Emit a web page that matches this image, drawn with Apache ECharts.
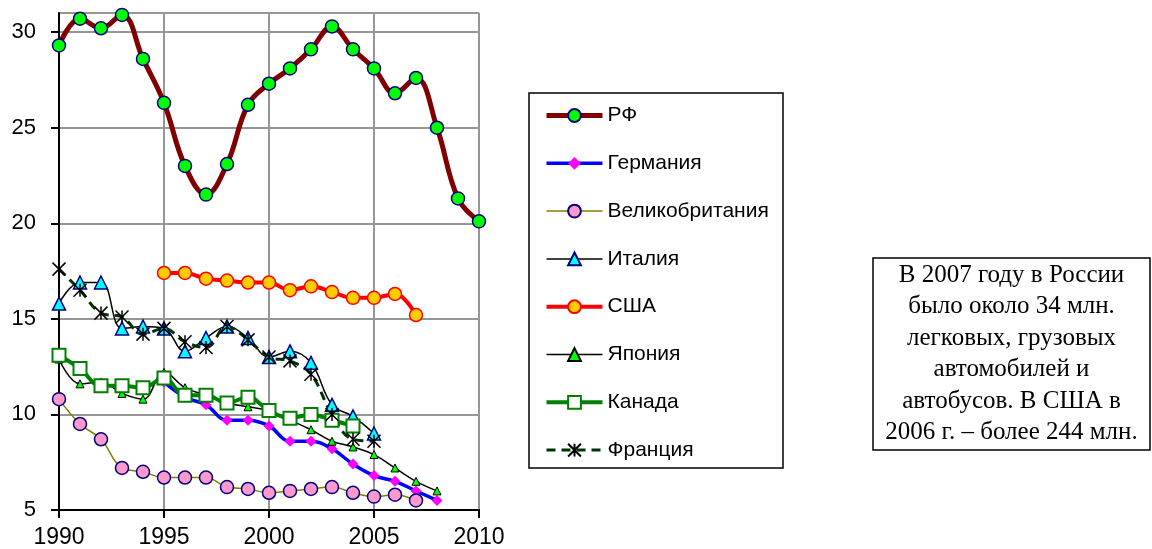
<!DOCTYPE html>
<html>
<head>
<meta charset="utf-8">
<script src="https://cdn.jsdelivr.net/npm/echarts@6/dist/echarts.min.js"></script>
<style>
  html, body { margin: 0; padding: 0; background: #fff; }
  #chart { width: 1152px; height: 549px; }
</style>
</head>
<body>
<div id="chart"></div>
<script>
// годы и значения
var years = ['1990','1991','1992','1993','1994','1995','1996','1997','1998','1999','2000',
             '2001','2002','2003','2004','2005','2006','2007','2008','2009','2010'];
var rf      = [29.3, 30.7, 30.2, 30.9, 28.6, 26.3, 23.0, 21.5, 23.1, 26.2, 27.3, 28.1, 29.1, 30.3, 29.1, 28.1, 26.8, 27.6, 25.0, 21.3, 20.1];
var germany = [null, null, null, null, null, 11.7, 10.9, 10.5, 9.7, 9.7, 9.4, 8.6, 8.6, 8.2, 7.4, 6.8, 6.5, 6.0, 5.5, null, null];
var britain = [10.8, 9.5, 8.7, 7.2, 7.0, 6.7, 6.7, 6.7, 6.2, 6.1, 5.9, 6.0, 6.1, 6.2, 5.9, 5.7, 5.8, 5.5, null, null, null];
var italy   = [15.8, 16.9, 16.9, 14.5, 14.6, 14.5, 13.3, 14.0, 14.6, 14.0, 13.0, 13.3, 12.7, 10.5, 9.9, 9.0, null, null, null, null, null];
var usa     = [null, null, null, null, null, 17.4, 17.4, 17.1, 17.0, 16.9, 16.9, 16.5, 16.7, 16.4, 16.1, 16.1, 16.3, 15.2, null, null, null];
var japan   = [12.9, 11.6, 11.7, 11.1, 10.8, 12.2, 11.4, 11.0, 10.6, 10.4, 10.2, 9.7, 9.2, 8.6, 8.3, 7.9, 7.2, 6.5, 6.0, null, null];
var canada  = [13.1, 12.4, 11.5, 11.5, 11.4, 11.9, 11.0, 11.0, 10.6, 10.9, 10.2, 9.8, 10.0, 9.7, 9.4, null, null, null, null, null, null];
var france  = [17.6, 16.5, 15.3, 15.1, 14.2, 14.5, 13.8, 13.5, 14.6, 13.9, 13.0, 12.8, 12.1, 10.0, 8.7, 8.6, null, null, null, null, null];

var note = 'В 2007 году в России\nбыло около 34 млн.\nлегковых, грузовых\nавтомобилей и\nавтобусов. В США в\n2006 г. – более 244 млн.';

var chart = echarts.init(document.getElementById('chart'), null, {renderer: 'canvas'});

function line(name, data, opts) {
  return Object.assign({
    name: name,
    type: 'line',
    data: data,
    smooth: 0.4,
    showAllSymbol: true,
    animation: false
  }, opts);
}

chart.setOption({
  animation: false,
  grid: { left: 59, right: 673, top: 13, bottom: 39 },
  xAxis: {
    type: 'category',
    data: years,
    boundaryGap: false,
    axisLine: { lineStyle: { color: '#000', width: 2 } },
    axisTick: { interval: 4, length: 8, lineStyle: { color: '#000', width: 2 } },
    axisLabel: { interval: 4, margin: 16, fontSize: 23, color: '#000', fontFamily: 'Liberation Sans' },
    splitLine: { show: true, interval: 4, lineStyle: { color: '#969696', width: 2 } }
  },
  yAxis: {
    type: 'value',
    min: 5, max: 31, interval: 5,
    axisLine: { show: true, lineStyle: { color: '#000', width: 2 } },
    axisTick: { show: true, length: 8, lineStyle: { color: '#000', width: 2 } },
    axisLabel: { margin: 23, fontSize: 22, color: '#000', fontFamily: 'Liberation Sans', showMaxLabel: false },
    splitLine: { lineStyle: { color: '#969696', width: 2 } }
  },
  legend: {
    orient: 'vertical',
    left: 544, top: 105,
    padding: 0,
    itemWidth: 56, itemHeight: 16,
    itemGap: 26.8,
    textStyle: { fontSize: 21, lineHeight: 20, color: '#000', fontFamily: 'Liberation Sans' },
    lineStyle: { width: 'inherit' },
    data: ['РФ', 'Германия', 'Великобритания', 'Италия', 'США', 'Япония', 'Канада', 'Франция']
  },
  graphic: [
    { type: 'rect', shape: { x: 529, y: 93, width: 254, height: 375 },
      style: { fill: 'none', stroke: '#000', lineWidth: 1.5 } },
    { type: 'rect', shape: { x: 873, y: 258, width: 277, height: 192 },
      style: { fill: 'none', stroke: '#000', lineWidth: 1.5 } },
    { type: 'text', x: 1011.5, y: 354,
      style: { text: note, font: '25px "Liberation Serif"', fill: '#000',
               align: 'center', verticalAlign: 'middle', lineHeight: 31.5 } }
  ],
  series: [
    line('РФ', rf, {
      symbol: 'circle', symbolSize: 13,
      lineStyle: { color: '#800000', width: 5 },
      itemStyle: { color: '#00ff00', borderColor: '#000080', borderWidth: 1.5 }
    }),
    line('Германия', germany, {
      symbol: 'diamond', symbolSize: [11, 11],
      lineStyle: { color: '#0000ff', width: 3.5 },
      itemStyle: { color: '#ff00ff', borderWidth: 0 }
    }),
    line('Великобритания', britain, {
      symbol: 'circle', symbolSize: 13,
      lineStyle: { color: '#808000', width: 1.5 },
      itemStyle: { color: '#ff99cc', borderColor: '#000080', borderWidth: 1.5 }
    }),
    line('Италия', italy, {
      symbol: 'triangle', symbolSize: 13,
      lineStyle: { color: '#000', width: 1.5 },
      itemStyle: { color: '#00ffff', borderColor: '#000080', borderWidth: 1.5 }
    }),
    line('США', usa, {
      symbol: 'circle', symbolSize: 13,
      lineStyle: { color: '#ff0000', width: 4 },
      itemStyle: { color: '#ffcc00', borderColor: '#ff0000', borderWidth: 1.5 }
    }),
    line('Япония', japan, {
      symbol: 'triangle', symbolSize: 8,
      lineStyle: { color: '#000', width: 1.5 },
      itemStyle: { color: '#00ff00', borderColor: '#000', borderWidth: 1 }
    }),
    line('Канада', canada, {
      symbol: 'rect', symbolSize: 13,
      lineStyle: { color: '#008000', width: 4 },
      itemStyle: { color: '#fff', borderColor: '#008000', borderWidth: 2 }
    }),
    line('Франция', france, {
      symbol: 'path://M0,0L10,10M10,0L0,10M5,0L5,10', symbolSize: 13,
      lineStyle: { color: '#003300', width: 3, type: [9, 6] },
      itemStyle: { color: 'none', borderColor: '#000', borderWidth: 1.5 }
    })
  ]
});
</script>
</body>
</html>
